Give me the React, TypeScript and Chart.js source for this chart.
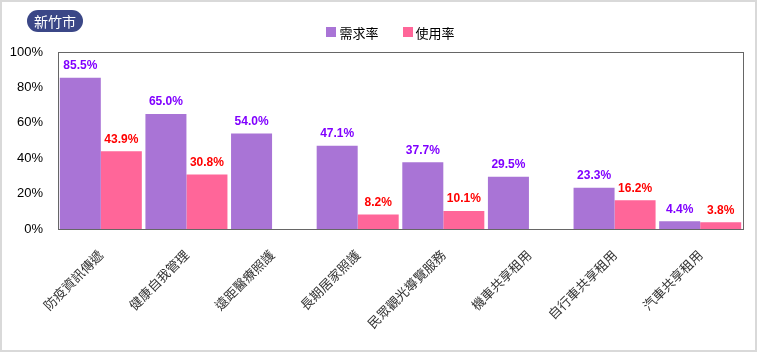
import React, { useEffect, useRef } from "react";
import { Chart, registerables } from "chart.js";

Chart.register(...registerables);

const categories = ["防疫資訊傳遞", "健康自我管理", "遠距醫療照護", "長期居家照護", "民眾觀光導覽服務", "機車共享租用", "自行車共享租用", "汽車共享租用"];
const demandRate: (number | null)[] = [85.5, 65.0, 54.0, 47.1, 37.7, 29.5, 23.3, 4.4];
const usageRate: (number | null)[] = [43.9, 30.8, null, 8.2, 10.1, null, 16.2, 3.8];
const seriesNames = ["需求率", "使用率"];
const yTicks = [0, 20, 40, 60, 80, 100];
const title = "新竹市";

const PURPLE = "#a974d6";
const PINK = "#ff6699";
const PURPLE_TEXT = "#8000ff";
const PINK_TEXT = "#ff0000";
const CJK = "'Noto Sans CJK TC', 'Liberation Sans', Arial, sans-serif";
const LAT = "'Liberation Sans', Arial, 'Noto Sans CJK TC', sans-serif";

const labelPlugin = {
  id: "valueLabels",
  afterDatasetsDraw(chart: any) {
    const ctx = chart.ctx;
    ctx.save();
    ctx.font = "bold 12px " + LAT;
    ctx.textAlign = "center";
    ctx.textBaseline = "bottom";
    chart.data.datasets.forEach((ds: any, di: number) => {
      const meta = chart.getDatasetMeta(di);
      ctx.fillStyle = di === 0 ? PURPLE_TEXT : PINK_TEXT;
      meta.data.forEach((bar: any, i: number) => {
        const v = ds.data[i];
        if (v === null || v === undefined) return;
        ctx.fillText(v.toFixed(1) + "%", bar.x, bar.y - 6);
      });
    });
    const a = chart.chartArea;
    ctx.strokeStyle = "#666666";
    ctx.lineWidth = 1;
    ctx.strokeRect(Math.round(a.left) + 0.5, Math.round(a.top) + 0.5, Math.round(a.right - a.left), Math.round(a.bottom - a.top));
    ctx.restore();
  },
};

export default function App() {
  const ref = useRef<HTMLCanvasElement | null>(null);
  useEffect(() => {
    document.body.style.margin = "0";
    if (!ref.current) return;
    const chart = new Chart(ref.current, {
      type: "bar",
      data: {
        labels: categories,
        datasets: [
          { label: seriesNames[0], data: demandRate, backgroundColor: PURPLE, borderWidth: 0, categoryPercentage: 0.958, barPercentage: 1 },
          { label: seriesNames[1], data: usageRate, backgroundColor: PINK, borderWidth: 0, categoryPercentage: 0.958, barPercentage: 1 },
        ],
      },
      options: {
        responsive: false,
        animation: false,
        maintainAspectRatio: false,
        layout: { padding: { left: 0, right: 14, top: 52, bottom: 0 } },
        plugins: { legend: { display: false }, tooltip: { enabled: false }, title: { display: false } },
        scales: {
          x: {
            grid: { display: false, drawTicks: false },
            border: { display: false },
            ticks: {
              color: "#333",
              font: { family: CJK, size: 13 },
              maxRotation: 45,
              minRotation: 45,
              padding: 18,
              autoSkip: false,
            },
            afterFit(scale: any) {
              scale.height = 123;
            },
          },
          y: {
            min: 0,
            max: 100,
            grid: { display: false, drawTicks: false },
            border: { display: false },
            afterBuildTicks(scale: any) {
              scale.ticks = yTicks.map((v) => ({ value: v }));
            },
            ticks: {
              color: "#000",
              font: { family: LAT, size: 13 },
              padding: 15,
              callback: (v: any) => v + "%",
            },
            afterFit(scale: any) {
              scale.width = 58;
            },
          },
        },
      },
      plugins: [labelPlugin],
    } as any);
    return () => chart.destroy();
  }, []);

  return (
    <div style={{ position: "relative", width: 757, height: 352, background: "#fff", fontFamily: CJK }}>
      <canvas ref={ref} width={757} height={352} style={{ position: "absolute", left: 0, top: 0, width: 757, height: 352 }} />
      <div style={{ position: "absolute", left: 0, top: 0, width: 757, height: 352, boxSizing: "border-box", border: "2px solid #d9d9d9", pointerEvents: "none" }} />
      <div style={{ position: "absolute", left: 27, top: 10, width: 56, height: 22, borderRadius: 11, background: "#3b4787", color: "#fff", fontSize: 14, lineHeight: "22px", textAlign: "center" }}>{title}</div>
      <div style={{ position: "absolute", left: 12, top: 23, width: 757, height: 18, display: "flex", justifyContent: "center", alignItems: "center", fontSize: 13, color: "#000" }}>
        {seriesNames.map((n, i) => (
          <div key={n} style={{ display: "flex", alignItems: "center", marginLeft: i === 0 ? 0 : 24, marginRight: 0 }}>
            <span style={{ display: "inline-block", width: 10, height: 10, background: i === 0 ? PURPLE : PINK, marginRight: 3 }} />
            <span>{n}</span>
          </div>
        ))}
      </div>
    </div>
  );
}
